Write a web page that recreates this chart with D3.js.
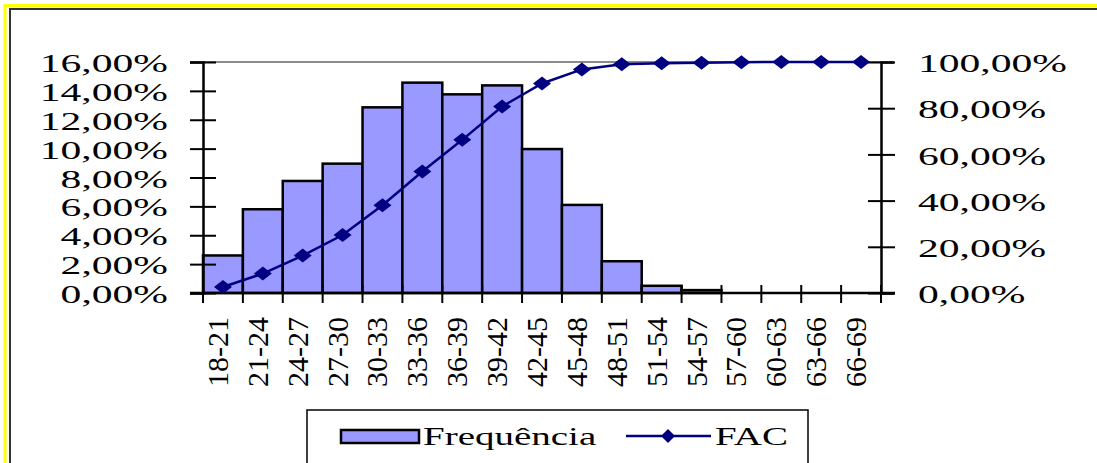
<!DOCTYPE html>
<html><head><meta charset="utf-8">
<script src="https://cdn.jsdelivr.net/npm/d3@7"></script>
<style>
html,body{margin:0;padding:0;background:#fff;}
svg{display:block;}
text{font-family:"Liberation Serif","Times New Roman",serif;fill:#000;}
</style></head>
<body>
<svg id="c" width="1097" height="463"></svg>
<script>
const categories = ["18-21","21-24","24-27","27-30","30-33","33-36","36-39","39-42","42-45","45-48","48-51","51-54","54-57","57-60","60-63","63-66","66-69"];
const frequencia = [0.026,0.058,0.0776,0.0896,0.1286,0.1457,0.1376,0.1438,0.0997,0.061,0.022,0.005,0.002,0,0,0,0];
const fac = [0.026,0.084,0.162,0.251,0.380,0.526,0.663,0.807,0.907,0.968,0.990,0.995,0.997,0.999,1.0,1.0,1.0];
const leftTicks = [0,0.02,0.04,0.06,0.08,0.10,0.12,0.14,0.16];
const rightTicks = [0,0.2,0.4,0.6,0.8,1.0];
const seriesNames = ["Frequência","FAC"];

const loc = d3.formatLocale({decimal:",",thousands:".",grouping:[3],currency:["","%"]});
const fmt = loc.format(".2%");

const svg = d3.select("#c");
const L = 203, R = 881, T = 62, B = 293;
const SX = 1.6, FS = 26;

// frame
svg.append("rect").attr("x",5).attr("y",5.5).attr("width",1200).attr("height",600)
  .attr("fill","none").attr("stroke","#ffff00").attr("stroke-width",3);
svg.append("rect").attr("x",10).attr("y",9).attr("width",1200).attr("height",600)
  .attr("fill","#fff").attr("stroke","#333").attr("stroke-width",2);

const x = d3.scaleBand().domain(categories).range([L,R]).padding(0);
const yL = d3.scaleLinear().domain([0,0.16]).range([B,T]);
const yR = d3.scaleLinear().domain([0,1]).range([B,T]);

// plot area top border
svg.append("line").attr("x1",L).attr("x2",R).attr("y1",T).attr("y2",T)
  .attr("stroke","#8a8a8a").attr("stroke-width",2);

// bars
svg.append("g").selectAll("rect").data(categories).join("rect")
  .attr("x",d=>x(d)).attr("width",x.bandwidth())
  .attr("y",(d,i)=>yL(frequencia[i])).attr("height",(d,i)=>B-yL(frequencia[i]))
  .attr("fill","#9999ff").attr("stroke","#000").attr("stroke-width",2.5);

// left axis
const gL = svg.append("g").attr("transform",`translate(${L},0)`)
  .call(d3.axisLeft(yL).tickValues(leftTicks).tickSize(13).tickFormat(fmt));
gL.select(".domain").attr("stroke","#000").attr("stroke-width",2.5);
gL.selectAll(".tick line").attr("x1",13).attr("x2",-13).attr("stroke","#000").attr("stroke-width",2);
gL.selectAll(".tick text").attr("x",null).attr("dy",null)
  .attr("text-anchor","end").attr("dominant-baseline","central")
  .attr("font-size",FS).attr("font-family","Liberation Serif")
  .attr("transform",`translate(-35,1) scale(${SX},1)`);

// right axis
const gR = svg.append("g").attr("transform",`translate(${R},0)`)
  .call(d3.axisRight(yR).tickValues(rightTicks).tickSize(13).tickFormat(fmt));
gR.select(".domain").attr("stroke","#000").attr("stroke-width",2.5);
gR.selectAll(".tick line").attr("x1",-13).attr("x2",14).attr("stroke","#000").attr("stroke-width",2);
gR.selectAll(".tick text").attr("x",null).attr("dy",null)
  .attr("text-anchor","start").attr("dominant-baseline","central")
  .attr("font-size",FS).attr("font-family","Liberation Serif")
  .attr("transform",`translate(37,1) scale(${SX},1)`);

// bottom axis
const gB = svg.append("g").attr("transform",`translate(0,${B})`)
  .call(d3.axisBottom(x).tickSize(0).tickSizeOuter(0));
gB.select(".domain").attr("stroke","#000").attr("stroke-width",2.5)
  .attr("d",`M${L-13},0H${R+14}`);
const bounds = categories.map(c=>x(c)).concat([R]);
svg.append("g").selectAll("line").data(bounds).join("line")
  .attr("x1",d=>d).attr("x2",d=>d).attr("y1",B-8).attr("y2",B+10)
  .attr("stroke","#000").attr("stroke-width",2);
gB.selectAll(".tick text")
  .attr("font-size",30).attr("font-family","Liberation Serif")
  .attr("text-anchor","end").attr("y",null).attr("dy","0.3em")
  .attr("transform","translate(-4,24) rotate(-90)");

// FAC line
const cx = d => x(d)+x.bandwidth()/2;
const line = d3.line().x((d,i)=>cx(categories[i])).y(d=>yR(d));
svg.append("path").datum(fac).attr("d",line)
  .attr("fill","none").attr("stroke","#000080").attr("stroke-width",2.5);
const diamond = (w,h)=>`M0,${-h}L${w},0L0,${h}L${-w},0Z`;
svg.append("g").selectAll("path").data(fac).join("path")
  .attr("transform",(d,i)=>`translate(${cx(categories[i])},${yR(d)})`)
  .attr("d",diamond(9,7)).attr("fill","#000080");

// legend
const lg = svg.append("g");
lg.append("rect").attr("x",307).attr("y",410).attr("width",501).attr("height",80)
  .attr("fill","#fff").attr("stroke","#000").attr("stroke-width",1.5);
lg.append("rect").attr("x",341).attr("y",430).attr("width",78).attr("height",13)
  .attr("fill","#9999ff").attr("stroke","#000").attr("stroke-width",2.5);
lg.append("text").attr("font-size",25).attr("dominant-baseline","central")
  .attr("transform",`translate(423,437) scale(1.56,1)`).text(seriesNames[0]);
lg.append("line").attr("x1",626).attr("x2",711).attr("y1",436).attr("y2",436)
  .attr("stroke","#000080").attr("stroke-width",2.5);
lg.append("path").attr("transform","translate(668,436)").attr("d",diamond(7,7)).attr("fill","#000080");
lg.append("text").attr("font-size",25).attr("dominant-baseline","central")
  .attr("transform",`translate(715,437) scale(1.56,1)`).text(seriesNames[1]);
</script>
</body></html>
